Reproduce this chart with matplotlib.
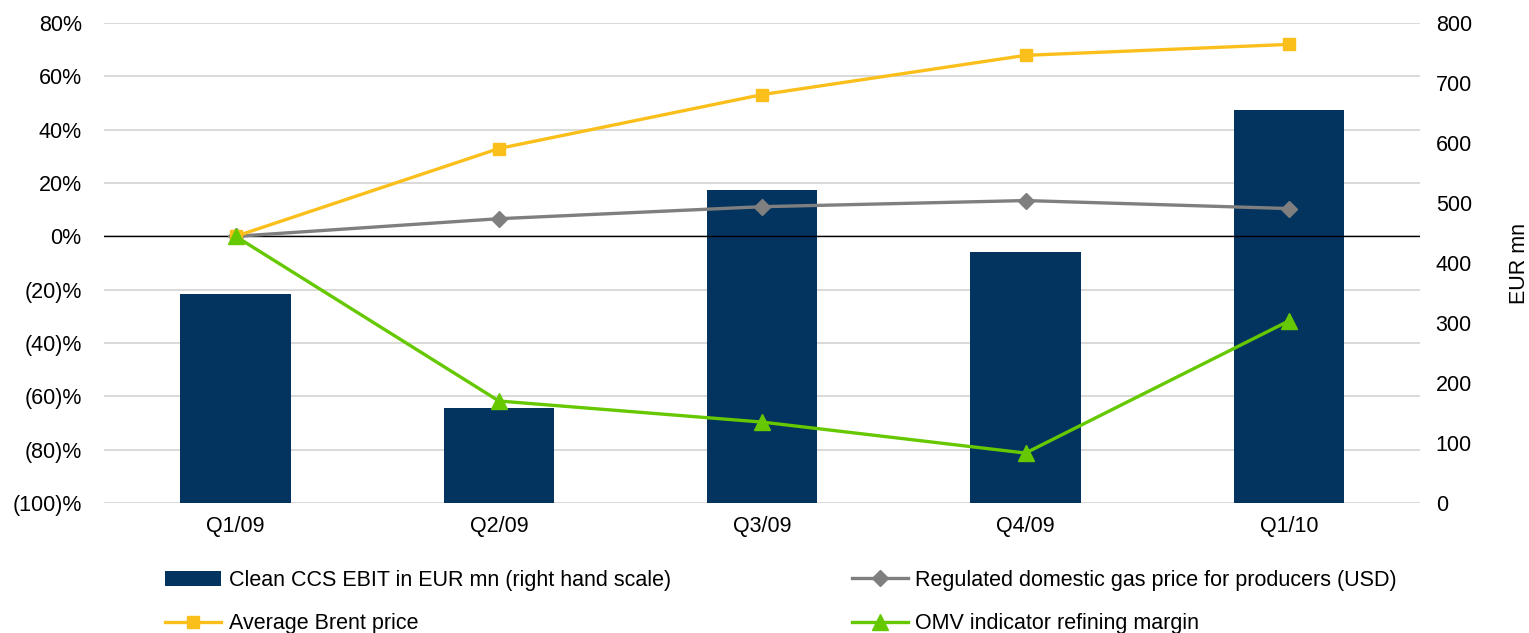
import numpy as np
import matplotlib.pyplot as plt
from matplotlib.ticker import FuncFormatter

plt.rcParams['font.family'] = ['Liberation Sans', 'DejaVu Sans']

quarters = ['Q1/09', 'Q2/09', 'Q3/09', 'Q4/09', 'Q1/10']
ebit = [348, 158, 521, 419, 654]          # EUR mn, right scale
brent = [0, 32.9, 53.1, 67.8, 71.9]       # % change vs Q1/09
gas = [0, 6.6, 11.1, 13.4, 10.4]
refining = [0, -61.7, -69.6, -81.2, -31.7]

FS = 15.5


def pct(v, pos):
    if v < 0:
        return '(%d)%%' % abs(v)
    return '%d%%' % v


fig = plt.figure(figsize=(15.29, 6.33), dpi=100)
rect = [0.068, 0.205, 0.861, 0.759]
x = np.arange(len(quarters))

# bottom layer: percent scale with grid
ax = fig.add_axes(rect)
ax.set_ylim(-100, 80)
ax.set_yticks(range(-100, 81, 20))
ax.yaxis.set_major_formatter(FuncFormatter(pct))
ax.yaxis.grid(True, color='#d9d9d9', linewidth=1.4)
ax.set_xlim(-0.5, len(quarters) - 0.5)
ax.set_xticks(x)
ax.set_xticklabels(quarters)

# middle layer: EBIT bars on the right scale
ax2 = ax.twinx()
bars = ax2.bar(x, ebit, width=0.42, color='#03345F',
               label='Clean CCS EBIT in EUR mn (right hand scale)')
ax2.set_ylim(0, 800)
ax2.set_yticks(range(0, 801, 100))
ax2.set_ylabel('EUR mn', fontsize=FS, labelpad=27)

# top layer: price lines
ax3 = fig.add_axes(rect, sharex=ax, sharey=ax)
ax3.patch.set_visible(False)
ax3.axis('off')
ax3.axhline(0, color='black', linewidth=1)
l_gas, = ax3.plot(x, gas, color='#7f7f7f', lw=2.4, marker='D', ms=8,
                  label='Regulated domestic gas price for producers (USD)')
l_brent, = ax3.plot(x, brent, color='#FBBF1C', lw=2.4, marker='s', ms=9,
                    label='Average Brent price')
l_ref, = ax3.plot(x, refining, color='#66C800', lw=2.4, marker='^', ms=11,
                  label='OMV indicator refining margin')

for a in (ax, ax2):
    for s in a.spines.values():
        s.set_visible(False)
    a.tick_params(length=0, labelsize=FS)
ax.tick_params(axis='y', pad=16)
ax.tick_params(axis='x', pad=9)
ax2.tick_params(axis='y', pad=11)

fig.legend([bars, l_brent, l_gas, l_ref],
           [bars.get_label(), l_brent.get_label(), l_gas.get_label(), l_ref.get_label()],
           ncol=2, loc='upper left', bbox_to_anchor=(0.108, 0.100),
           frameon=False, fontsize=FS, handlelength=2.6, handletextpad=0.35,
           columnspacing=8.4, labelspacing=1.05, borderpad=0, borderaxespad=0)

fig.savefig('out.png', dpi=100)
